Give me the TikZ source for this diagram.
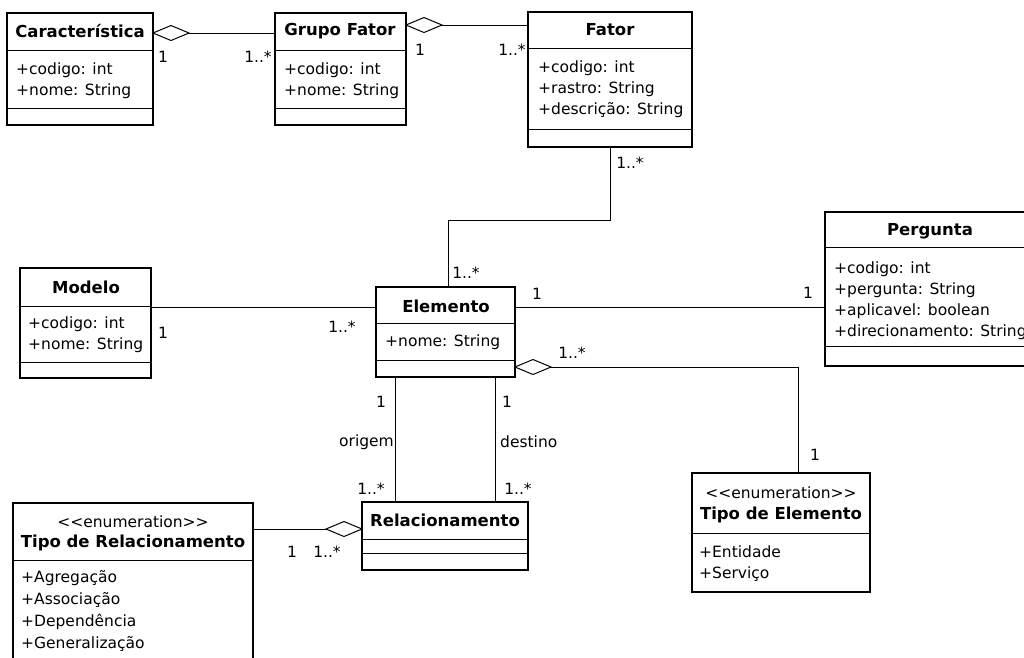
\documentclass[tikz,border=0pt]{standalone}
\usepackage{fontspec}
\setmainfont{DejaVu Sans}
\usetikzlibrary{calc}
\begin{document}
\begin{tikzpicture}[x=1pt,y=1pt,
  cls/.style={draw, line width=1.2pt, anchor=north west, inner sep=0pt, outer sep=0pt},
  sepline/.style={line width=1pt},
  wire/.style={line width=1pt},
  agg/.style={draw, line width=1pt, fill=white},
  ttl/.style={font=\bfseries\fontsize{16.5}{18}\selectfont, inner sep=0pt, anchor=center},
  stereo/.style={font=\fontsize{15.5}{18}\selectfont, inner sep=0pt, anchor=center},
  attr/.style={font=\fontsize{15.5}{18}\selectfont, inner sep=0pt, anchor=west},
  mult/.style={font=\fontsize{15.5}{18}\selectfont, inner sep=0pt, anchor=center},
  role/.style={font=\fontsize{15.5}{18}\selectfont, inner sep=0pt}
]
% canvas
\useasboundingbox (0,0) rectangle (1024,-657);
\fill[white] (0,0) rectangle (1024,-657);
\clip (0,0) rectangle (1024,-657);

% class boxes: name, left, top, width, height
\newcommand\umlclass[5]{\node[cls, minimum width=#4, minimum height=#5] (#1) at (#2,-#3) {};}
% compartment separator at absolute height
\newcommand\umlsep[2]{\draw[sepline] (#1.west |- 0,-#2) -- (#1.east |- 0,-#2);}
% open aggregation diamond, tip at (#1), pointing in direction #2 (1 = right, -1 = left)
\newcommand\umldiamond[2]{\draw[agg] (#1) -- ++(#2*18,7.5) -- ++(#2*18,-7.5) -- ++(-#2*18,-7.5) -- cycle;}
% stereotype text, kerns keep the angle brackets from merging into guillemets
\newcommand\enumstereo{<\kern0pt<enumeration>\kern0pt>}

% ---- Caracteristica ----
\umlclass{car}{7}{13}{146}{112}
\umlsep{car}{50}\umlsep{car}{108}
\node[ttl] (car-t) at (80,-31) {Característica};
\node[attr] (car-a1) at (16,-70) {+codigo: int};
\node[attr] (car-a2) at (16,-91) {+nome: String};

% ---- Grupo Fator ----
\umlclass{gf}{275}{13}{131}{112}
\umlsep{gf}{50}\umlsep{gf}{108}
\node[ttl] (gf-t) at (340,-31) {Grupo Fator};
\node[attr] (gf-a1) at (284,-70) {+codigo: int};
\node[attr] (gf-a2) at (284,-91) {+nome: String};

% ---- Fator ----
\umlclass{fat}{528}{12}{164}{135}
\umlsep{fat}{48}\umlsep{fat}{129}
\node[ttl] (fat-t) at (610,-30) {Fator};
\node[attr] (fat-a1) at (538,-68) {+codigo: int};
\node[attr] (fat-a2) at (538,-89) {+rastro: String};
\node[attr] (fat-a3) at (538,-110) {+descrição: String};

% ---- Pergunta ----
\umlclass{per}{825}{212}{210}{154}
\umlsep{per}{247}\umlsep{per}{346}
\node[ttl] (per-t) at (930,-231) {Pergunta};
\node[attr] (per-a1) at (834,-269) {+codigo: int};
\node[attr] (per-a2) at (834,-290) {+pergunta: String};
\node[attr] (per-a3) at (834,-311) {+aplicavel: boolean};
\node[attr] (per-a4) at (834,-332) {+direcionamento: String};

% ---- Modelo ----
\umlclass{mod}{20}{268}{131}{110}
\umlsep{mod}{306}\umlsep{mod}{362}
\node[ttl] (mod-t) at (86,-287) {Modelo};
\node[attr] (mod-a1) at (28,-324) {+codigo: int};
\node[attr] (mod-a2) at (28,-345) {+nome: String};

% ---- Elemento ----
\umlclass{ele}{376}{287}{139}{90}
\umlsep{ele}{323}\umlsep{ele}{360}
\node[ttl] (ele-t) at (446,-306) {Elemento};
\node[attr] (ele-a1) at (385,-342) {+nome: String};

% ---- Relacionamento ----
\umlclass{rel}{362}{502}{166}{68}
\umlsep{rel}{539}\umlsep{rel}{553}
\node[ttl] (rel-t) at (445,-520) {Relacionamento};

% ---- Tipo de Relacionamento ----
\umlclass{tr}{13}{503}{240}{175}
\umlsep{tr}{560}
\node[stereo] (tr-s) at (133,-522) {\enumstereo};
\node[ttl] (tr-t) at (133,-543) {Tipo de Relacionamento};
\node[attr] (tr-a1) at (21,-578) {+Agregação};
\node[attr] (tr-a2) at (21,-600) {+Associação};
\node[attr] (tr-a3) at (21,-622) {+Dependência};
\node[attr] (tr-a4) at (21,-644) {+Generalização};

% ---- Tipo de Elemento ----
\umlclass{te}{692}{473}{178}{119}
\umlsep{te}{533}
\node[stereo] (te-s) at (781,-493) {\enumstereo};
\node[ttl] (te-t) at (781,-515) {Tipo de Elemento};
\node[attr] (te-a1) at (699,-552) {+Entidade};
\node[attr] (te-a2) at (699,-574) {+Serviço};

% ---- associations ----
% Caracteristica <>-- Grupo Fator
\coordinate (cgTip) at ($(car.north east)+(0,-20)$);
\umldiamond{cgTip}{1}
\draw[wire] ($(cgTip)+(36,0)$) -- (cgTip -| gf.west);
\node[mult] (m1) at (163,-57) {1};
\node[mult] (m2) at (258,-57) {1..*};

% Grupo Fator <>-- Fator
\coordinate (gfTip) at ($(gf.north east)+(0,-12)$);
\umldiamond{gfTip}{1}
\draw[wire] ($(gfTip)+(36,0)$) -- (gfTip -| fat.west);
\node[mult] (m3) at (420,-50) {1};
\node[mult] (m4) at (512,-50) {1..*};

% Fator -- Elemento
\coordinate (eleTop) at ($(ele.north west)+(72,0)$);
\draw[wire] (fat.south) -- ++(0,-73) -| (eleTop);
\node[mult] (m5) at (630,-163) {1..*};
\node[mult] (m6) at (466,-273) {1..*};

% Modelo -- Elemento
\coordinate (eleL) at ($(ele.north west)+(0,-20)$);
\draw[wire] (eleL -| mod.east) -- (eleL);
\node[mult] (m7) at (163,-333) {1};
\node[mult] (m8) at (342,-327) {1..*};

% Elemento -- Pergunta
\coordinate (eleR) at ($(ele.north east)+(0,-20)$);
\draw[wire] (eleR) -- (eleR -| per.west);
\node[mult] (m9) at (537,-294) {1};
\node[mult] (m10) at (808,-293) {1};

% Elemento <>-- Tipo de Elemento
\coordinate (etTip) at ($(ele.north east)+(0,-80)$);
\coordinate (teTop) at ($(te.north west)+(106,0)$);
\umldiamond{etTip}{1}
\draw[wire] ($(etTip)+(36,0)$) -| (teTop);
\node[mult] (m11) at (572,-353) {1..*};
\node[mult] (m12) at (815,-455) {1};

% Elemento -- Relacionamento (origem / destino)
\coordinate (orgTop) at ($(ele.south west)+(19,0)$);
\coordinate (dstTop) at ($(ele.south west)+(119,0)$);
\draw[wire] (orgTop) -- (orgTop |- rel.north);
\draw[wire] (dstTop) -- (dstTop |- rel.north);
\node[mult] (m13) at (381,-402) {1};
\node[role, anchor=east] (r1) at (394,-442) {origem};
\node[mult] (m14) at (371,-489) {1..*};
\node[mult] (m15) at (507,-402) {1};
\node[role, anchor=west] (r2) at (500,-442) {destino};
\node[mult] (m16) at (518,-489) {1..*};

% Tipo de Relacionamento --<> Relacionamento
\coordinate (trTip) at ($(rel.north west)+(0,-27)$);
\umldiamond{trTip}{-1}
\draw[wire] (trTip -| tr.east) -- ($(trTip)+(-36,0)$);
\node[mult] (m17) at (292,-552) {1};
\node[mult] (m18) at (327,-552) {1..*};
\end{tikzpicture}
\end{document}
